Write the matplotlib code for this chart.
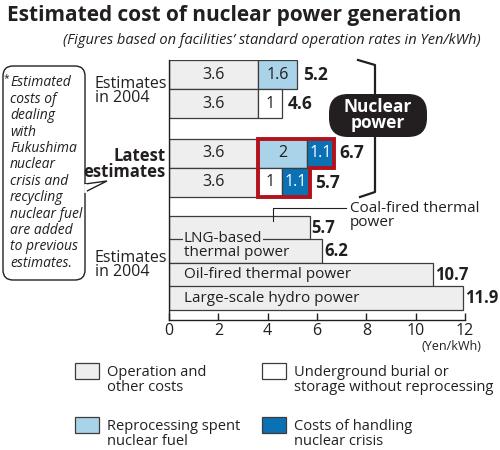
import matplotlib
matplotlib.use("Agg")
import matplotlib.pyplot as plt
from matplotlib.patches import Rectangle, FancyBboxPatch, Polygon

plt.rcParams['font.family'] = ['Open Sans', 'DejaVu Sans']

# nuclear rows: 2004 (reprocessing), 2004 (burial), latest (reprocessing), latest (burial)
operation = [3.6, 3.6, 3.6, 3.6]
backend = [1.6, 1.0, 2.0, 1.0]
backend_kind = ['reprocess', 'burial', 'reprocess', 'burial']
crisis = [0.0, 0.0, 1.1, 1.1]
nuclear_total = [5.2, 4.6, 6.7, 5.7]

# other sources (2004 estimates)
others = ['Coal-fired thermal power', 'LNG-based thermal power',
          'Oil-fired thermal power', 'Large-scale hydro power']
others_val = [5.7, 6.2, 10.7, 11.9]

xticks = [0, 2, 4, 6, 8, 10, 12]

# colours
GRAY = '#eeeeee'
LBLUE = '#a9d3e9'
BLUE = '#0a72b4'
RED = '#b3121b'
INK = '#231f20'
EDGE = '#3c3c3c'

# row layout in pixel units (y grows downward)
nuc_y = [74.5, 103.5, 153, 182.5]
nuc_h = 29
oth_y = [228, 251, 275, 298]
oth_h = 23.5

fig = plt.figure(figsize=(5, 4.5), dpi=100)
ax = fig.add_axes([169 / 500, 1 - 320 / 450, 296 / 500, 260 / 450])
ax.set_xlim(0, 12)
ax.set_ylim(320, 60)

kw = dict(edgecolor=EDGE, linewidth=0.9)
for i in range(4):
    y = nuc_y[i]
    ax.barh(y, operation[i], height=nuc_h, color=GRAY, **kw)
    ax.text(operation[i] / 2, y, f'{operation[i]:g}', ha='center', va='center',
            fontsize=11.5, color=INK)
    c = LBLUE if backend_kind[i] == 'reprocess' else 'white'
    ax.barh(y, backend[i], left=operation[i], height=nuc_h, color=c, **kw)
    ax.text(operation[i] + backend[i] / 2, y, f'{backend[i]:g}', ha='center',
            va='center', fontsize=11.5, color=INK)
    if crisis[i] > 0:
        l = operation[i] + backend[i]
        ax.barh(y, crisis[i], left=l, height=nuc_h, color=BLUE, **kw)
        ax.text(l + crisis[i] / 2, y, f'{crisis[i]:g}', ha='center', va='center',
                fontsize=11.5, color='white')
    ax.annotate(f'{nuclear_total[i]:g}', (nuclear_total[i], y), xytext=(4, 0),
                textcoords='offset points', ha='left', va='center',
                fontsize=12.5, fontweight='bold', color=INK)

for i in range(4):
    ax.barh(oth_y[i], others_val[i], height=oth_h, color=GRAY, **kw)
    ax.annotate(f'{others_val[i]:g}', (others_val[i], oth_y[i]), xytext=(1.5, 0),
                textcoords='offset points', ha='left', va='center',
                fontsize=12, fontweight='bold', color=INK)

# red frame around the latest additions
x0 = operation[2]
ta, tb = nuclear_total[2], nuclear_total[3]
top = nuc_y[2] - nuc_h / 2
mid = nuc_y[2] + nuc_h / 2
bot = nuc_y[3] + nuc_h / 2
ax.add_patch(Polygon([(x0, top), (ta, top), (ta, mid), (tb, mid), (tb, bot), (x0, bot)],
                     closed=True, fill=False, edgecolor=RED, linewidth=2.8,
                     joinstyle='miter', zorder=5))

# labels inside/near lower bars
ax.text(0.6, oth_y[2], others[2], ha='left', va='center', fontsize=11, color=INK)
ax.text(0.6, oth_y[3], others[3], ha='left', va='center', fontsize=11, color=INK)
ax.text(0.6, oth_y[1] - 13, 'LNG-based', ha='left', va='center', fontsize=11,
        color=INK, zorder=6, bbox=dict(boxstyle='square,pad=0.05', fc=GRAY, ec='none'))
ax.text(0.6, oth_y[1] + 2, 'thermal power', ha='left', va='center', fontsize=11,
        color=INK)

ax.set_xticks(xticks)
ax.set_yticks([])
ax.tick_params(axis='x', direction='in', length=5, width=1, color=INK,
               labelsize=11.5, labelcolor=INK, pad=2)
for s in ['top', 'right']:
    ax.spines[s].set_visible(False)
for s in ['left', 'bottom']:
    ax.spines[s].set_color(INK)
    ax.spines[s].set_linewidth(1)

# overlay in pixel coordinates for annotations
ov = fig.add_axes([0, 0, 1, 1], facecolor='none')
ov.set_xlim(0, 500)
ov.set_ylim(450, 0)
ov.axis('off')

ov.text(7, 15, 'Estimated cost of nuclear power generation', ha='left', va='center',
        fontsize=15, fontweight='bold', color=INK)
ov.text(481, 40, "(Figures based on facilities’ standard operation rates in Yen/kWh)",
        ha='right', va='center', fontsize=10.5, style='italic', color=INK)
ov.text(481, 347, '(Yen/kWh)', ha='right', va='center', fontsize=9, color=INK)

ov.text(95, 91, 'Estimates\nin 2004', ha='left', va='center', fontsize=11.5,
        color=INK, linespacing=0.9)
ov.text(166, 164, 'Latest\nestimates', ha='right', va='center', fontsize=12,
        fontweight='bold', color=INK, linespacing=0.85)
ov.text(95, 265, 'Estimates\nin 2004', ha='left', va='center', fontsize=11.5,
        color=INK, linespacing=0.9)

# coal label with leader
ov.plot([273, 273, 346], [221, 208, 208], color=INK, lw=0.8)
ov.text(350, 208, 'Coal-fired thermal', ha='left', va='center', fontsize=11, color=INK)
ov.text(350, 222, 'power', ha='left', va='center', fontsize=11, color=INK)

# nuclear power bracket and pill
ov.plot([358, 375, 375], [60, 65, 95], color=INK, lw=1.6)
ov.plot([375, 375, 360], [136, 192, 197], color=INK, lw=1.6)
ov.add_patch(FancyBboxPatch((329, 94), 98, 43, boxstyle='round,pad=0,rounding_size=19',
                            fc=INK, ec='none'))
ov.text(378, 115, 'Nuclear\npower', ha='center', va='center', fontsize=12.5,
        fontweight='bold', color='white', linespacing=0.9)

# callout box
ov.add_patch(FancyBboxPatch((3, 66), 82, 214, boxstyle='round,pad=0,rounding_size=10',
                            fc='white', ec=INK, lw=1))
ov.add_patch(Polygon([(85, 184), (107, 181), (85, 192)], closed=True, fc='white',
                     ec=INK, lw=1, zorder=3))
ov.plot([85, 85], [185, 191], color='white', lw=2, zorder=4)
note = ['Estimated', 'costs of', 'dealing', 'with', 'Fukushima', 'nuclear',
        'crisis and', 'recycling', 'nuclear fuel', 'are added', 'to previous',
        'estimates.']
for k, line in enumerate(note):
    ov.text(10, 83 + k * 16.4, line, ha='left', va='center', fontsize=10,
            style='italic', color=INK)
ov.text(3.5, 79, '*', ha='left', va='center', fontsize=7.5, color=INK)

# legend
leg_items = [('Operation and\nother costs', GRAY, 75, 371),
             ('Underground burial or\nstorage without reprocessing', 'white', 262, 371),
             ('Reprocessing spent\nnuclear fuel', LBLUE, 75, 425),
             ('Costs of handling\nnuclear crisis', BLUE, 262, 425)]
for lab, col, lx, ly in leg_items:
    ov.add_patch(Rectangle((lx, ly - 8), 24, 16, fc=col, ec=EDGE, lw=0.9))
    ov.text(lx + 32, ly + 9, lab, ha='left', va='center', fontsize=10.5,
            color=INK, linespacing=0.95)

fig.savefig('out.png', dpi=100)
